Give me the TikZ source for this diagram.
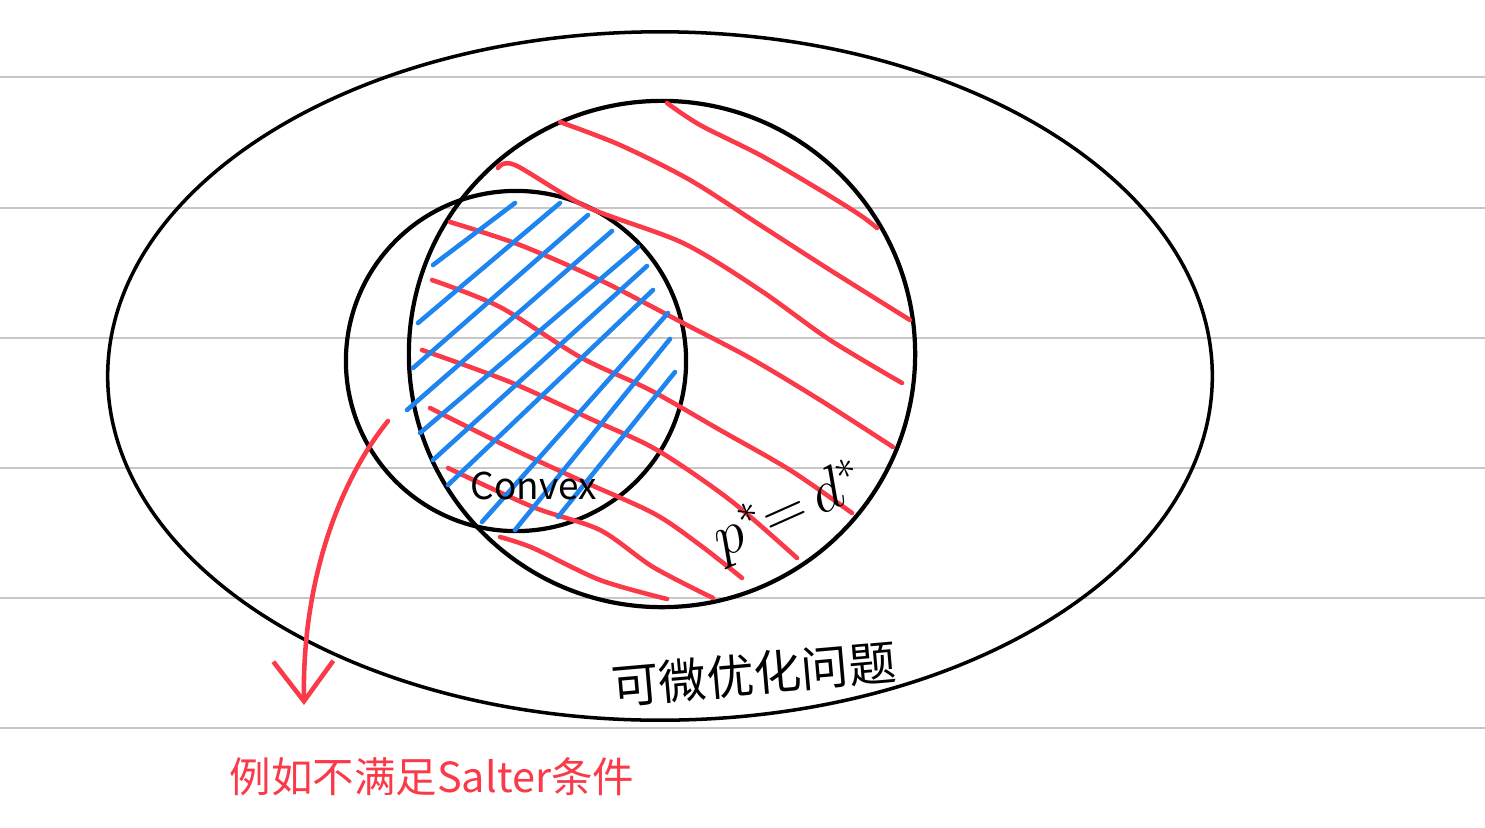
\documentclass[tikz,border=0pt]{standalone}
\usepackage{fontspec}
\newfontfamily\cjk{Noto Sans CJK SC}
\usetikzlibrary{arrows.meta}
\definecolor{penred}{RGB}{250,58,72}
\definecolor{penblue}{RGB}{30,132,240}

\begin{document}
\begin{tikzpicture}[x=0.01cm, y=-0.01cm,
  ruled/.style={draw=black!22, line width=0.6pt},
  outline/.style={draw=black, line width=1.2pt},
  redpen/.style={draw=penred, line width=1.3pt, line cap=round, line join=round},
  bluepen/.style={draw=penblue, line width=1.3pt, line cap=round},
  hand/.style={inner sep=0pt, font=\cjk\fontsize{10.5pt}{10.5pt}\selectfont}
]
  \useasboundingbox (0,0) rectangle (1485,827);
  % ruled paper
  \foreach \y in {77,208,338,468,598,728}
    \draw[ruled] (0,\y) -- (1485,\y);

  % sets
  \draw[outline, line width=1pt] (660,376) ellipse [x radius=5.52cm, y radius=3.44cm];
  \draw[outline] (662,354) circle [radius=2.53cm];
  \draw[outline] (516,361) circle [radius=1.70cm];

  % red hatching (p*=d*)
  \draw[redpen] plot[smooth] coordinates {(667,103) (700,125) (760,155) (820,190) (860,215) (877,228)};
  \draw[redpen] plot[smooth] coordinates {(560,122) (620,145) (690,180) (760,225) (830,270) (910,320)};
  \draw[redpen] plot[smooth] coordinates {(498,168) (515,165) (587,207) (683,243) (760,290) (830,340) (902,383)};
  \draw[redpen] plot[smooth] coordinates {(450,222) (520,245) (600,280) (683,323) (750,358) (820,400) (893,447)};
  \draw[redpen] plot[smooth] coordinates {(432,280) (500,307) (580,357) (650,390) (720,430) (790,470) (852,513)};
  \draw[redpen] plot[smooth] coordinates {(422,350) (510,382) (593,420) (657,450) (730,500) (797,558)};
  \draw[redpen] plot[smooth] coordinates {(430,408) (500,443) (573,477) (653,513) (700,545) (742,578)};
  \draw[redpen] plot[smooth] coordinates {(448,468) (533,507) (600,530) (653,567) (713,598)};
  \draw[redpen] plot[smooth] coordinates {(500,537) (533,548) (600,580) (667,599)};

  % blue hatching (convex)
  \foreach \xa/\ya/\xb/\yb in {433/265/515/203, 418/323/560/203, 413/368/588/215,
                               407/410/612/231, 420/433/638/247, 433/460/647/266,
                               448/485/653/290, 482/522/668/313, 515/530/670/339,
                               558/517/675/372}
    \draw[bluepen] (\xa,\ya) -- (\xb,\yb);

  % labels
  \node[hand] (convex) at (534,486) {Convex};
  \node[inner sep=0pt, rotate=24, font=\fontsize{18pt}{18pt}\selectfont] (strong) at (790,512) {$p^*{=}\,d^*$};
  \node[hand, font=\cjk\fontsize{13.5pt}{13.5pt}\selectfont, rotate=5] (diffprob) at (754,674) {可微优化问题};
  \node[hand, text=penred, font=\cjk\fontsize{11.8pt}{11.8pt}\selectfont] (slater) at (432,777) {例如不满足Salter条件};

  % arrow to the note
  \coordinate (arrowstart) at (388,421);
  \coordinate (arrowtip) at (304,705);
  \draw[redpen, -{Straight Barb[length=0.4cm, width=0.6cm]}] (arrowstart) .. controls (340,480) and (302,580) .. (arrowtip);
\end{tikzpicture}
\end{document}
